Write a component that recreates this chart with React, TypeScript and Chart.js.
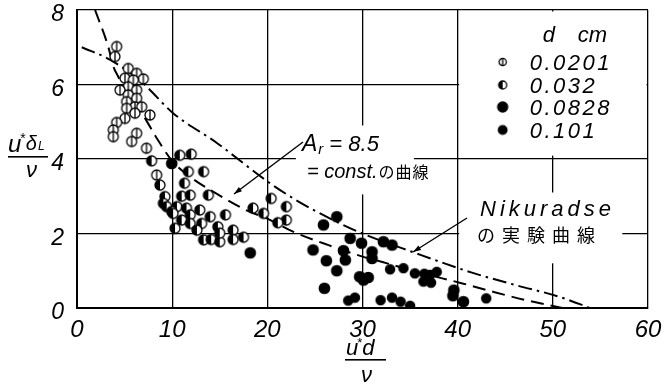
import React, { useEffect, useRef } from "react";
import { Chart, registerables } from "chart.js";
Chart.register(...registerables);

// ---- data ----
const xMin = 0, xMax = 60, xStep = 10;
const yMin = 0, yMax = 8, yStep = 2;
const legendTitle = ["d", "cm"];
const seriesLabels = ["0.0201", "0.032", "0.0828", "0.101"];

const d0201: number[][] = [
  [4.17, 7.02], [3.99, 6.75], [5.39, 6.43], [6.27, 6.3], [6.97, 6.15], [5.04, 6.17], [5.92, 6.12],
  [5.39, 5.94], [4.52, 5.85], [6.27, 5.85], [5.39, 5.72], [6.27, 5.63], [5.22, 5.54], [6.09, 5.4],
  [6.8, 5.4], [5.22, 5.36], [6.09, 5.23], [7.67, 5.18], [5.04, 5.09], [4.17, 4.98], [3.81, 4.78],
  [3.81, 4.6], [6.27, 4.69], [5.74, 4.47], [7.3, 4.29], [8.37, 3.57],
];
const d032: number[][] = [
  [10.8, 4.1], [12.0, 4.13], [7.84, 3.95], [11.7, 3.66], [13.3, 3.66], [8.72, 3.3], [11.3, 3.35],
  [13.8, 3.03], [9.24, 2.99], [11.0, 3.0], [11.9, 3.03], [9.07, 2.81], [9.42, 2.72], [10.5, 2.72],
  [9.95, 2.59], [11.5, 2.68], [12.9, 2.63], [11.9, 2.5], [15.6, 2.5], [10.1, 2.54], [14.0, 2.45],
  [11.0, 2.36], [11.9, 2.27], [13.1, 2.27], [10.3, 2.14], [12.6, 2.09], [14.8, 2.18], [13.3, 1.83],
  [14.1, 1.84], [15.0, 1.78], [16.4, 2.09], [16.4, 1.84], [17.5, 1.9], [15.0, 2.01], [18.5, 2.68],
  [19.6, 2.54], [20.4, 2.94], [22.0, 2.72], [22.0, 2.36], [21.1, 2.29],
];
const d0828: number[][] = [
  [9.95, 3.88], [18.2, 1.48], [27.3, 2.45], [25.9, 2.23], [28.7, 1.87], [29.9, 1.74], [32.2, 1.78],
  [33.1, 1.69], [24.8, 1.56], [28.0, 1.54], [31.0, 1.51], [31.0, 1.33], [26.2, 1.27], [28.2, 1.29],
  [27.3, 1.0], [29.7, 0.84], [30.6, 0.82], [30.1, 0.75], [26.0, 0.53], [39.6, 0.48], [39.5, 0.33],
  [40.6, 0.17],
];
const d101: number[][] = [
  [32.9, 1.04], [34.3, 1.07], [35.5, 0.93], [36.5, 0.92], [37.1, 0.89], [37.8, 0.97], [36.4, 0.71],
  [37.2, 0.68], [28.5, 0.2], [29.2, 0.28], [31.9, 0.21], [33.1, 0.28], [34.0, 0.17], [35.0, 0.06],
  [43.0, 0.26],
];
const curveAr: number[][] = [
  [1.9, 8.0], [3.3, 7.0], [3.8, 6.5], [4.35, 6.2], [5.4, 5.7], [7.0, 5.15], [8.4, 4.55], [10.0, 3.95],
  [12.0, 3.5], [14.8, 3.05], [18.0, 2.6], [20.0, 2.4], [22.7, 2.05], [26.5, 1.68], [30.0, 1.38],
  [32.0, 1.24], [36.0, 0.95], [40.5, 0.66], [43.5, 0.45], [47.0, 0.22], [51.0, 0.0],
];
const curveNik: number[][] = [
  [0.5, 7.0], [3.5, 6.66], [6.9, 6.04], [10.1, 5.23], [14.7, 4.43], [20.0, 3.4], [23.0, 2.9],
  [27.0, 2.35], [30.0, 2.0], [35.3, 1.5], [41.5, 0.95], [46.0, 0.62], [50.7, 0.3], [53.9, 0.0],
];

const FONT = '"Liberation Sans", Arial, sans-serif';
const CJK = '"Noto Sans CJK JP", sans-serif';

function marker(kind: string, r: number): HTMLCanvasElement {
  const s = Math.ceil(2 * r + 4);
  const c = document.createElement("canvas");
  c.width = s;
  c.height = s;
  const g = c.getContext("2d")!;
  const cx = s / 2, cy = s / 2;
  g.lineWidth = 1.3;
  g.strokeStyle = "#000";
  g.beginPath();
  g.arc(cx, cy, r, 0, Math.PI * 2);
  g.fillStyle = kind === "open" || kind === "half" ? "#fff" : "#000";
  g.fill();
  if (kind === "half") {
    g.beginPath();
    g.moveTo(cx, cy - r);
    g.arc(cx, cy, r, -Math.PI / 2, Math.PI / 2, true);
    g.closePath();
    g.fillStyle = "#000";
    g.fill();
  }
  if (kind === "open") {
    g.beginPath();
    g.moveTo(cx, cy - r);
    g.lineTo(cx, cy + r);
    g.stroke();
  }
  g.beginPath();
  g.arc(cx, cy, r, 0, Math.PI * 2);
  g.stroke();
  return c;
}

function arrow(ctx: CanvasRenderingContext2D, x1: number, y1: number, x2: number, y2: number) {
  ctx.save();
  ctx.strokeStyle = "#000";
  ctx.fillStyle = "#000";
  ctx.lineWidth = 1.4;
  ctx.beginPath();
  ctx.moveTo(x1, y1);
  ctx.lineTo(x2, y2);
  ctx.stroke();
  const a = Math.atan2(y2 - y1, x2 - x1);
  const L = 8, W = 2.6;
  ctx.beginPath();
  ctx.moveTo(x2, y2);
  ctx.lineTo(x2 - L * Math.cos(a) + W * Math.sin(a), y2 - L * Math.sin(a) - W * Math.cos(a));
  ctx.lineTo(x2 - L * Math.cos(a) - W * Math.sin(a), y2 - L * Math.sin(a) + W * Math.cos(a));
  ctx.closePath();
  ctx.fill();
  ctx.restore();
}

function txt(ctx: CanvasRenderingContext2D, s: string, x: number, y: number, font: string, spacing = 0) {
  ctx.font = font;
  (ctx as any).letterSpacing = spacing + "px";
  ctx.fillText(s, x, y);
  const w = ctx.measureText(s).width;
  (ctx as any).letterSpacing = "0px";
  return x + w;
}

export default function App() {
  const ref = useRef<HTMLCanvasElement | null>(null);
  useEffect(() => {
    document.body.style.margin = "0";
    const mOpen = marker("open", 5);
    const mHalf = marker("half", 5);
    const mFill = marker("fill", 5.2);
    const mDot = marker("fill", 4.6);
    const lOpen = marker("open", 3.6);
    const lHalf = marker("half", 4);
    const lFill = marker("fill", 5);
    const lDot = marker("fill", 4.3);
    const toXY = (a: number[][]) => a.map(([x, y]) => ({ x, y }));

    const deco = {
      id: "deco",
      beforeDatasetsDraw(chart: any) {
        const { ctx, scales } = chart;
        const X = (v: number) => scales.x.getPixelForValue(v);
        const Y = (v: number) => scales.y.getPixelForValue(v);
        ctx.save();
        ctx.fillStyle = "#fff";
        // legend box (x 40..60, y 4..8)
        ctx.fillRect(X(40) + 1.5, Y(8) + 1.5, X(60) - X(40) - 3, Y(4.05) - Y(8) - 3);
        // A_r label area
        ctx.fillRect(X(23.0), Y(4.9), X(35.4) - X(23.0), Y(3.05) - Y(4.9));
        // Nikuradse label area
        ctx.fillRect(X(40) + 1.5, Y(3.1), X(57.3) - X(40) - 1.5, Y(1.2) - Y(3.1));
        ctx.restore();
      },
      afterDatasetsDraw(chart: any) {
        const { ctx, scales } = chart;
        const X = (v: number) => scales.x.getPixelForValue(v);
        const Y = (v: number) => scales.y.getPixelForValue(v);
        ctx.save();
        ctx.fillStyle = "#000";
        ctx.textBaseline = "alphabetic";
        ctx.textAlign = "left";
        // legend
        const lx = X(40);
        const ty = Y(8);
        txt(ctx, legendTitle[0], lx + 85, ty + 32, `italic 22px ${FONT}`);
        txt(ctx, legendTitle[1], lx + 120, ty + 32, `italic 22px ${FONT}`);
        const rows = [ty + 52, ty + 75, ty + 97, ty + 120];
        const icons = [lOpen, lHalf, lFill, lDot];
        rows.forEach((ry, i) => {
          const ic = icons[i];
          ctx.drawImage(ic, lx + 45 - ic.width / 2, ry - ic.height / 2);
          txt(ctx, seriesLabels[i], lx + 72, ry + 8, `italic 22px ${FONT}`, 2.5);
        });
        // A_r annotation
        let ax = 302;
        const ay = 151;
        ax = txt(ctx, "A", ax, ay, `italic 23px ${FONT}`);
        ax = txt(ctx, "r", ax + 1, ay + 3, `italic 15px ${FONT}`);
        txt(ctx, "= 8.5", ax + 6, ay, `italic 22px ${FONT}`);
        let bx = txt(ctx, "= const.", 307, 178, `italic 20px ${FONT}`);
        txt(ctx, "の曲線", bx + 1, 178, `16px ${CJK}`, 1);
        arrow(ctx, 303, 142, 234, 194);
        // Nikuradse annotation
        txt(ctx, "Nikuradse", 480, 216, `italic 22px ${FONT}`, 4);
        txt(ctx, "の実験曲線", 477, 242, `18px ${CJK}`, 7);
        arrow(ctx, 467, 218, 413, 252);
        // y-axis title u*δL / ν
        let yx = txt(ctx, "u", 8, 152, `italic 24px ${FONT}`);
        yx = txt(ctx, "*", yx - 1, 143, `14px ${FONT}`);
        yx = txt(ctx, "δ", yx, 150, `italic 20px ${FONT}`);
        txt(ctx, "L", yx + 1, 150, `italic 12px ${FONT}`);
        ctx.fillRect(8, 156, 40, 1.6);
        txt(ctx, "ν", 26, 177, `italic 22px ${FONT}`);
        // x-axis title u*d / ν
        let xx = txt(ctx, "u", 346, 355, `italic 22px ${FONT}`);
        xx = txt(ctx, "*", xx - 1, 347, `13px ${FONT}`);
        txt(ctx, "d", xx, 355, `italic 22px ${FONT}`);
        ctx.fillRect(345, 359, 41, 1.6);
        txt(ctx, "ν", 361, 382, `italic 22px ${FONT}`);
        ctx.restore();
      },
    };

    const chart = new Chart(ref.current!, {
      type: "scatter",
      data: {
        datasets: [
          { label: seriesLabels[0], data: toXY(d0201), pointStyle: mOpen as any, pointRadius: 5 },
          { label: seriesLabels[1], data: toXY(d032), pointStyle: mHalf as any, pointRadius: 5 },
          { label: seriesLabels[2], data: toXY(d0828), pointStyle: mFill as any, pointRadius: 5 },
          { label: seriesLabels[3], data: toXY(d101), pointStyle: mDot as any, pointRadius: 5 },
          {
            label: "Ar=8.5", type: "line" as any, data: toXY(curveAr), borderColor: "#000",
            borderWidth: 2, borderDash: [13, 7], pointRadius: 0, showLine: true,
            cubicInterpolationMode: "monotone", fill: false,
          },
          {
            label: "Nikuradse", type: "line" as any, data: toXY(curveNik), borderColor: "#000",
            borderWidth: 2, borderDash: [14, 5, 2.5, 5], pointRadius: 0, showLine: true,
            cubicInterpolationMode: "monotone", fill: false,
          },
        ],
      },
      options: {
        animation: false,
        responsive: false,
        layout: { padding: { top: 10, right: 24, left: 0, bottom: 0 } },
        plugins: { legend: { display: false }, tooltip: { enabled: false } },
        scales: {
          x: {
            type: "linear", min: xMin, max: xMax,
            ticks: { stepSize: xStep, color: "#000", padding: 10, font: { family: FONT, style: "italic", size: 24, lineHeight: 1 } },
            grid: { color: "#000", lineWidth: 1.3, drawTicks: false },
            border: { color: "#000", width: 2 },
            afterFit: (s: any) => { s.height = 80; s.paddingLeft = 0; s.paddingRight = 0; },
          },
          y: {
            type: "linear", min: yMin, max: yMax,
            ticks: { stepSize: yStep, color: "#000", padding: 13, labelOffset: 5, font: { family: FONT, style: "italic", size: 23, lineHeight: 0.8 } },
            grid: { color: "#000", lineWidth: 1.3, drawTicks: false },
            border: { color: "#000", width: 2 },
            afterFit: (s: any) => { s.width = 77; s.paddingTop = 0; s.paddingBottom = 0; },
          },
        },
      },
      plugins: [deco],
    });
    return () => chart.destroy();
  }, []);
  return <canvas ref={ref} width={672} height={388} style={{ display: "block" }} />;
}
